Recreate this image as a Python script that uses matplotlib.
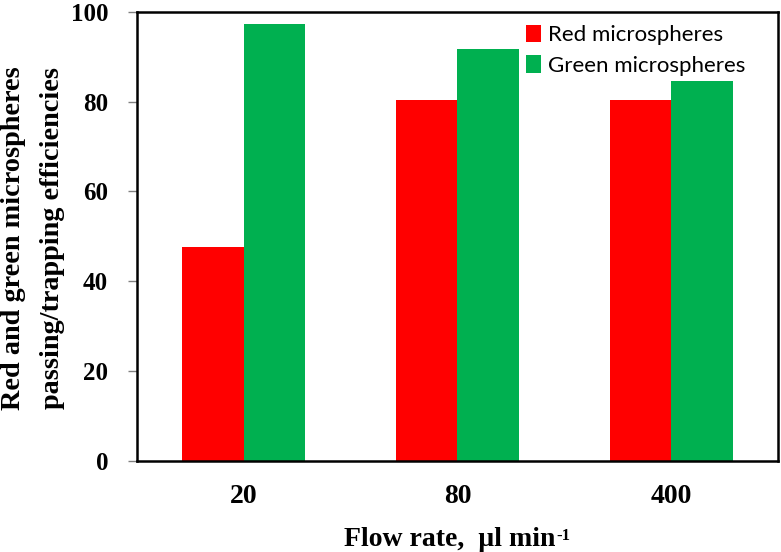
import matplotlib
matplotlib.use("Agg")
import matplotlib.pyplot as plt
import numpy as np

categories = ["20", "80", "400"]
red_values = [47.5, 80.3, 80.3]
green_values = [97.2, 91.6, 84.6]
series_names = ["Red microspheres", "Green microspheres"]
yticks = [0, 20, 40, 60, 80, 100]

W, H = 781, 552
fig = plt.figure(figsize=(W/100, H/100), dpi=100)
L, R, T, B = 136.7, 778.3, 11.7, 460.7
ax = fig.add_axes([L/W, 1 - B/H, (R-L)/W, (B-T)/H])

x = np.arange(len(categories))
w = 0.288
ax.bar(x - w/2, red_values, width=w, color="#FF0000", label=series_names[0])
ax.bar(x + w/2, green_values, width=w, color="#00B050", label=series_names[1])

ax.set_xlim(-0.5, 2.5)
ax.set_ylim(0, 100)
ax.set_yticks(yticks)
ax.set_xticks(x)
ax.set_xticklabels(categories)

serif = "Liberation Serif"
for lab in ax.get_yticklabels():
    lab.set_fontfamily(serif); lab.set_fontweight("bold"); lab.set_fontsize(18)
for lab in ax.get_xticklabels():
    lab.set_fontfamily(serif); lab.set_fontweight("bold"); lab.set_fontsize(20)

ax.tick_params(axis="y", direction="out", length=6.5, width=1, color="#808080", pad=14)
ax.tick_params(axis="x", length=0, pad=17)

for s in ax.spines.values():
    s.set_linewidth(1.8)
    s.set_color("black")

# x label with a small hyphen superscript
fig.canvas.draw()
renderer = fig.canvas.get_renderer()
xl_y = 1 - 540/H
main = fig.text(0.5, xl_y, "Flow rate,  \u00b5l min", ha="left", va="center",
                fontsize=20, fontweight="bold", family=serif)
sup = "-1"
bb = main.get_window_extent(renderer)
sup_t = fig.text(0, 0, sup, fontsize=12, fontweight="bold", family=serif)
bs = sup_t.get_window_extent(renderer)
total = bb.width + bs.width + 1
x0 = ((L + R) / 2 - total / 2)
main.set_position((x0 / W, xl_y))
sup_t.set_position(((x0 + bb.width + 1) / W, (bb.y1 - bs.height * 0.8) / H))

fig.text(14/W, 1 - 238/H, "Red and green microspheres", rotation=90, ha="center", va="center",
         fontsize=20.3, fontweight="bold", family=serif)
fig.text(53/W, 1 - 238/H, "passing/trapping efficiencies", rotation=90, ha="center", va="center",
         fontsize=20.3, fontweight="bold", family=serif)

leg = ax.legend(loc="upper left", bbox_to_anchor=((517-L)/(R-L), 1 - 4/(B-T)), frameon=False,
                prop={"family": "Lato", "size": 16}, handlelength=0.7, handleheight=0.85,
                handletextpad=0.3, labelspacing=0.45, borderaxespad=0)

fig.savefig("out.png", dpi=100)
